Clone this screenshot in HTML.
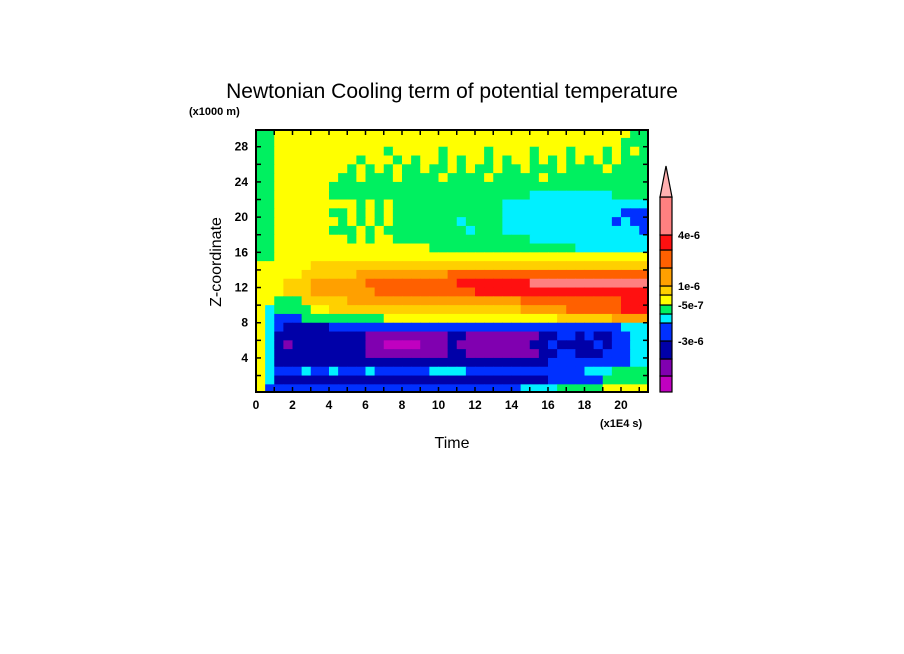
<!DOCTYPE html>
<html><head><meta charset="utf-8"><style>
html,body{margin:0;padding:0;background:#fff;}
svg{display:block;font-family:"Liberation Sans",sans-serif;}
</style></head><body>
<svg id="chart" width="904" height="654" viewBox="0 0 904 654" xmlns="http://www.w3.org/2000/svg">
<rect width="904" height="654" fill="#fff"/>
<text x="452" y="98" font-size="21" text-anchor="middle" fill="#000">Newtonian Cooling term of potential temperature</text>
<text x="189" y="115" font-size="11" font-weight="bold" fill="#000">(x1000 m)</text>
<text x="600" y="427" font-size="11" font-weight="bold" fill="#000">(x1E4 s)</text>
<text x="452" y="448" font-size="16" text-anchor="middle" fill="#000">Time</text>
<text x="0" y="0" font-size="16" text-anchor="middle" fill="#000" transform="translate(221,262) rotate(-90)">Z-coordinate</text>
<g id="cells"></g>
<g id="axes"></g>
<g id="cbar"></g>
</svg>
<script>
// data: contour level index per cell (0 lowest .. 11 highest), rows from top (z 29-30) to bottom (z 0-1), columns x step 0.5 (x1E4 s)
const levelRows = [
"5566666666666666666666666666666666666666655",
"5566666666666666666666666666666666666666555",
"5566666666666656666656666566665666566656565",
"5566666666656665656656566565665656565656555",
"5566666666565656556556565565565556555565555",
"5566666665565556555565555655555655555555555",
"5566666655555555555555555555555555555555555",
"5566666655555555555555555555554444444445555",
"5566666666656565555555555554444444444444444",
"5566666655656565555555555554444444444444333",
"5566666665656565555555455554444444444443433",
"5566666655565655555555545554444444444444443",
"5566666666565665555555555555554444444444444",
"5566666666666666666555555555555555544444444",
"5566666666666666666666666666666666666666666",
"6666667777777777777777777777777777777777777",
"6666677777788888888889999999999999999999999",
"6667778888889999999999aaaaaaaabbbbbbbbbbbbb",
"666777888888899999999999aaaaaaaaaaaaaaaaaaa",
"6655577777888888888888888888899999999999aaa",
"6455556677777777777777777777788888999999aaa",
"6433355555555566666666666666666667777778888",
"6432222233333333333333333333333333333333444",
"6422222222221111111112211111111223323223344",
"6421222222221100001112111111112232222323344",
"6422222222221111111112211111111223322233344",
"6422222222222222222222222222222233333333344",
"6433343343334333333444433333333333334445555",
"6422222222222222222222222222222233333355555",
"6333333333333333333333333333344445555566666"
];
const levelColors = ["#c000c0","#8000b0","#0000a8","#0030ff","#00f0ff","#00f060","#ffff00","#ffd000","#ffa000","#ff6000","#ff1010","#ff8080"];
const xTicks = [0,2,4,6,8,10,12,14,16,18,20];
const yTicks = [4,8,12,16,20,24,28];
const cbarLabels = ["4e-6","1e-6","-5e-7","-3e-6"];
const cbarLabelLevel = [10.5,7.5,5.5,2.5];

const NS="http://www.w3.org/2000/svg";
const X0=256,X1=648,Y0=130,Y1=392;
const xmin=0,xmax=21.48,zmin=0.13,zmax=29.9;
const xs=v=>X0+(v-xmin)/(xmax-xmin)*(X1-X0);
const ys=v=>Y1-(v-zmin)/(zmax-zmin)*(Y1-Y0);
function mk(tag,attrs,parent){const e=document.createElementNS(NS,tag);for(const k in attrs)e.setAttribute(k,attrs[k]);parent.appendChild(e);return e;}
const cells=document.getElementById('cells');
const nRows=levelRows.length;
levelRows.forEach((row,r)=>{
  const zTop=nRows-r, zBot=nRows-r-1;
  for(let i=0;i<43;i++){
    const ch=row[i]||row[row.length-1];
    const lv=parseInt(ch,16);
    const xa=Math.max(xs(i*0.5),X0), xb=Math.min(xs((i+1)*0.5),X1);
    const ya=Math.max(ys(zTop),Y0), yb=Math.min(ys(zBot),Y1);
    const c=mk('rect',{x:xa,y:ya,width:xb-xa+0.5,height:yb-ya+0.5,fill:levelColors[lv]},cells);
    
    
  }
});
const ax=document.getElementById('axes');
const fr=mk('rect',{x:X0,y:Y0,width:X1-X0,height:Y1-Y0,fill:'none',stroke:'#000','stroke-width':2},ax);


for(let v=1;v<=21;v++){
  mk('line',{x1:xs(v),x2:xs(v),y1:Y1,y2:Y1-5,stroke:'#000','stroke-width':1.5},ax);
  mk('line',{x1:xs(v),x2:xs(v),y1:Y0,y2:Y0+5,stroke:'#000','stroke-width':1.5},ax);
}
for(let v=2;v<=28;v+=2){
  mk('line',{x1:X0,x2:X0+5,y1:ys(v),y2:ys(v),stroke:'#000','stroke-width':1.5},ax);
  mk('line',{x1:X1,x2:X1-5,y1:ys(v),y2:ys(v),stroke:'#000','stroke-width':1.5},ax);
}
xTicks.forEach(v=>{
  const t=mk('text',{x:xs(v),y:Y1+17,'font-size':12,'text-anchor':'middle','font-weight':'bold'},ax);
  t.textContent=v;
  
  
});
yTicks.forEach(v=>{
  const t=mk('text',{x:X0-8,y:ys(v)+4,'font-size':12,'text-anchor':'end','font-weight':'bold'},ax);
  t.textContent=v;
  
  
});
// colorbar
const cb=document.getElementById('cbar');
const CX=660,CW=12;
const edges=[392,376,359,341,323,314,305,295,286,268,250,235,197];
for(let k=0;k<12;k++){
  const r=mk('rect',{x:CX,y:edges[k+1],width:CW,height:edges[k]-edges[k+1],fill:levelColors[k],stroke:'#000','stroke-width':1.2},cb);
  
  
}
const tri=mk('polygon',{points:`${CX},197 ${CX+CW},197 ${CX+6},166`,fill:'#ffb0b0',stroke:'#000','stroke-width':1.2},cb);


cbarLabels.forEach((s,i)=>{
  const lv=cbarLabelLevel[i];
  const y=edges[Math.round(lv+0.5)];
  const t=mk('text',{x:678,y:y+4,'font-size':11,'font-weight':'bold'},cb);
  t.textContent=s;
  
  
});
</script>
</body></html>
